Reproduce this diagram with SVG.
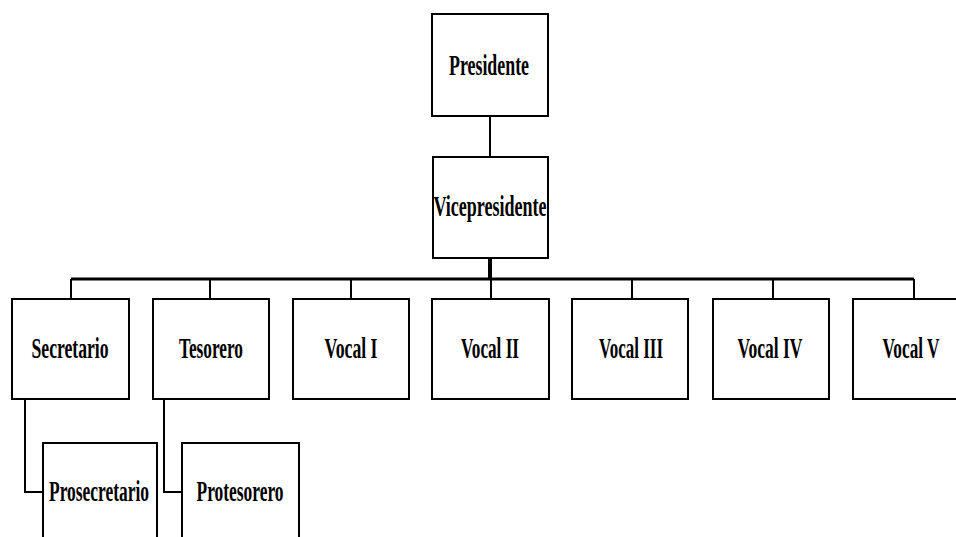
<svg xmlns="http://www.w3.org/2000/svg" width="956" height="537" viewBox="0 0 956 537">
<style>
.box{fill:#fff;stroke:#000;stroke-width:2}
.ln{fill:none;stroke:#000;stroke-width:2}
.t{font-family:"Liberation Serif","Times New Roman",serif;font-size:30px;font-weight:bold;fill:#000;text-anchor:middle}
</style>
<rect width="956" height="537" fill="#fff"/>
<g id="connectors">
<line class="ln" x1="490" y1="116" x2="490" y2="157"/>
<line class="ln" x1="490" y1="258" x2="490" y2="279" style="stroke-width:4"/>
<line class="ln" x1="71" y1="279" x2="914" y2="279" style="stroke-width:3"/>
<line class="ln" x1="71" y1="279" x2="71" y2="299"/>
<line class="ln" x1="210" y1="279" x2="210" y2="299"/>
<line class="ln" x1="351" y1="279" x2="351" y2="299"/>
<line class="ln" x1="491" y1="279" x2="491" y2="299"/>
<line class="ln" x1="632" y1="279" x2="632" y2="299"/>
<line class="ln" x1="773" y1="279" x2="773" y2="299"/>
<line class="ln" x1="914" y1="279" x2="914" y2="299"/>
<polyline class="ln" points="25,399 25,492 43,492"/>
<polyline class="ln" points="164,399 164,492 182,492"/>
</g>
<g id="presidente"><rect class="box" x="432" y="14" width="116" height="102"/><text class="t" x="489" y="75" textLength="80" lengthAdjust="spacingAndGlyphs">Presidente</text></g>
<g id="vicepresidente"><rect class="box" x="433" y="157" width="115" height="101"/><text class="t" x="490" y="216" textLength="113" lengthAdjust="spacingAndGlyphs">Vicepresidente</text></g>
<g id="secretario"><rect class="box" x="12" y="299" width="117" height="100"/><text class="t" x="70" y="358" textLength="77" lengthAdjust="spacingAndGlyphs">Secretario</text></g>
<g id="tesorero"><rect class="box" x="153" y="299" width="116" height="100"/><text class="t" x="211" y="358" textLength="64" lengthAdjust="spacingAndGlyphs">Tesorero</text></g>
<g id="vocal1"><rect class="box" x="293" y="299" width="116" height="100"/><text class="t" x="351" y="358" textLength="53" lengthAdjust="spacingAndGlyphs">Vocal I</text></g>
<g id="vocal2"><rect class="box" x="432" y="299" width="117" height="100"/><text class="t" x="490" y="358" textLength="58" lengthAdjust="spacingAndGlyphs">Vocal II</text></g>
<g id="vocal3"><rect class="box" x="572" y="299" width="116" height="100"/><text class="t" x="631" y="358" textLength="64" lengthAdjust="spacingAndGlyphs">Vocal III</text></g>
<g id="vocal4"><rect class="box" x="713" y="299" width="116" height="100"/><text class="t" x="770" y="358" textLength="65" lengthAdjust="spacingAndGlyphs">Vocal IV</text></g>
<g id="vocal5"><rect class="box" x="853" y="299" width="116" height="100"/><text class="t" x="911" y="358" textLength="57" lengthAdjust="spacingAndGlyphs">Vocal V</text></g>
<g id="prosecretario"><rect class="box" x="43" y="443" width="114" height="110"/><text class="t" x="99" y="501" textLength="100" lengthAdjust="spacingAndGlyphs">Prosecretario</text></g>
<g id="protesorero"><rect class="box" x="182" y="443" width="117" height="110"/><text class="t" x="240" y="501" textLength="87" lengthAdjust="spacingAndGlyphs">Protesorero</text></g>
</svg>
